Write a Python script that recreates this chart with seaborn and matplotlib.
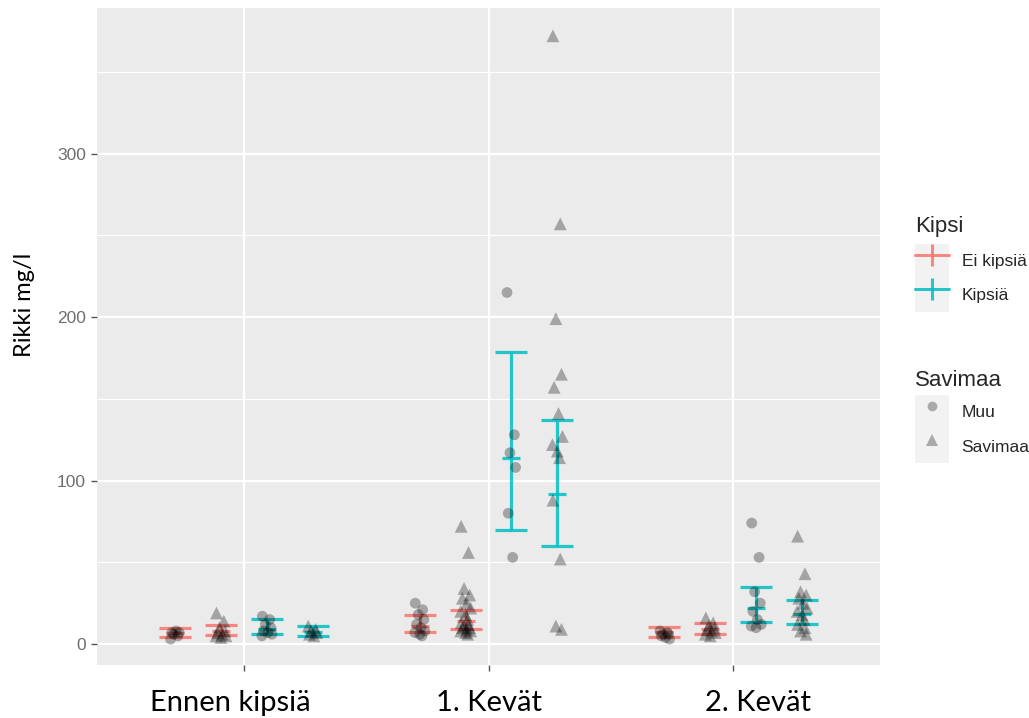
import numpy as np
import pandas as pd
import matplotlib
matplotlib.use("Agg")
import matplotlib.pyplot as plt
import matplotlib.transforms as mtransforms
from matplotlib.lines import Line2D
from matplotlib.patches import Rectangle
from matplotlib.legend_handler import HandlerTuple
import seaborn as sns

# ---------------- data ----------------
categories = ["Ennen kipsiä", "1. Kevät", "2. Kevät"]
kipsi_levels = ["Ei kipsiä", "Kipsiä"]
savimaa_levels = ["Muu", "Savimaa"]

# individual observations, Rikki mg/l
ennen_ei_muu = [3, 5, 6, 7, 7, 8]
ennen_ei_savi = [19, 14, 10, 8, 7, 6, 5, 5, 4]
ennen_k_muu = [17, 15, 12, 10, 8, 7, 6, 5]
ennen_k_savi = [11, 9, 8, 7, 6, 5]

kevat1_ei_muu = [25, 21, 18, 15, 12, 10, 8, 7, 6, 5]
kevat1_ei_savi = [72, 56, 34, 30, 28, 25, 22, 20, 18, 15, 13, 12, 11, 10, 10, 9, 8, 8, 7, 6]
kevat1_k_muu = [215, 128, 117, 108, 80, 53]
kevat1_k_savi = [372, 257, 199, 165, 157, 141, 127, 122, 118, 114, 88, 52, 11, 9]

kevat2_ei_muu = [8, 7, 6, 6, 5, 4, 3]
kevat2_ei_savi = [16, 13, 11, 10, 9, 8, 7, 6, 5]
kevat2_k_muu = [74, 53, 32, 25, 20, 15, 12, 11, 10]
kevat2_k_savi = [66, 43, 32, 30, 28, 25, 22, 20, 18, 15, 12, 10, 8, 6]

# model estimate with interval, order: category x kipsi x savimaa
est_low = [4.5, 5.5, 6.1, 5.0, 7.3, 9.2, 69.7, 60.0, 4.5, 6.1, 13.7, 12.0]
est_mid = [7.0, 8.0, 9.2, 7.5, 11.0, 14.0, 114.0, 92.0, 7.5, 9.0, 21.8, 18.2]
est_high = [10.0, 11.6, 15.3, 11.0, 17.7, 20.8, 178.6, 137.0, 10.6, 13.0, 35.0, 26.9]

groups = [
    ennen_ei_muu, ennen_ei_savi, ennen_k_muu, ennen_k_savi,
    kevat1_ei_muu, kevat1_ei_savi, kevat1_k_muu, kevat1_k_savi,
    kevat2_ei_muu, kevat2_ei_savi, kevat2_k_muu, kevat2_k_savi,
]

# ---------------- layout / style ----------------
colors = {"Ei kipsiä": "#F8766D", "Kipsiä": "#00BFC4"}
dodge_width = 0.75
n_sub = 4
offsets = [(-dodge_width / 2 + dodge_width / n_sub * (k + 0.5)) for k in range(n_sub)]
jit = [-0.018, 0.012, -0.006, 0.017, -0.013, 0.005, 0.021, -0.02, 0.0, 0.009]

rows = []
est_rows = []
g = 0
for ci, cat in enumerate(categories):
    for ki, kip in enumerate(kipsi_levels):
        for si, sav in enumerate(savimaa_levels):
            sub = ki * 2 + si
            xc = ci + offsets[sub]
            for j, v in enumerate(groups[g]):
                rows.append({"x": xc + jit[j % len(jit)], "Rikki": v,
                             "Kipsi": kip, "Savimaa": sav})
            est_rows.append({"x": xc, "low": est_low[g], "mid": est_mid[g],
                             "high": est_high[g], "Kipsi": kip})
            g += 1
df = pd.DataFrame(rows)
est = pd.DataFrame(est_rows)

sns.set_theme(style="darkgrid")
plt.rcParams["font.family"] = ["Liberation Sans", "DejaVu Sans"]

fig = plt.figure(figsize=(10.29, 7.18), dpi=100)
fig.patch.set_facecolor("white")
ax = fig.add_axes([97 / 1029, 1 - 665 / 718, (880 - 97) / 1029, (665 - 8) / 718])
ax.set_facecolor("#EBEBEB")

# error bars (estimate + interval)
for kip in kipsi_levels:
    e = est[est["Kipsi"] == kip]
    ax.errorbar(e["x"], e["mid"],
                yerr=[e["mid"] - e["low"], e["high"] - e["mid"]],
                fmt="none", ecolor=colors[kip], elinewidth=2.3, capsize=11.5,
                capthick=2.3, alpha=0.85, zorder=3)
    ax.plot(e["x"], e["mid"], linestyle="none", marker="_", markersize=13,
            markeredgewidth=2.3, color=colors[kip], alpha=0.85, zorder=3)

# observations
sns.scatterplot(data=df, x="x", y="Rikki", style="Savimaa", size="Savimaa",
                markers={"Muu": "o", "Savimaa": "^"},
                sizes={"Muu": 60, "Savimaa": 85},
                style_order=savimaa_levels, size_order=savimaa_levels,
                color="black", alpha=0.3, linewidth=0, legend=False, ax=ax, zorder=4)

ax.set_xlim(-0.6, 2.6)
ax.set_ylim(-12.8, 389)
ax.set_xticks(range(len(categories)))
ax.set_xticklabels(categories, fontsize=21, fontname="Lato", color="black")
ax.set_yticks([0, 100, 200, 300])
ax.set_yticklabels(["0", "100", "200", "300"], fontsize=12.5, color="#6e6e6e")
ax.set_yticks([50, 150, 250, 350], minor=True)
ax.grid(which="major", color="white", linewidth=1.6)
ax.grid(which="minor", axis="y", color="white", linewidth=0.8)
ax.tick_params(axis="both", which="major", length=4, width=1.0, color="#555555",
               bottom=True, left=True)
ax.tick_params(axis="x", pad=14)
ax.tick_params(axis="y", pad=4)
ax.tick_params(which="minor", length=0)
for sp in ax.spines.values():
    sp.set_visible(False)
ax.set_xlabel("")
ax.set_ylabel("Rikki mg/l", fontsize=17, fontname="Lato", color="black", va="center")
ax.yaxis.set_label_coords(-0.092, 0.548)

shifts = [-14, 0, 25]
for lab, dx in zip(ax.get_xticklabels(), shifts):
    lab.set_transform(lab.get_transform() +
                      mtransforms.ScaledTranslation(dx / 100, 0, fig.dpi_scale_trans))

# legends
hmap = {tuple: HandlerTuple(ndivide=1, pad=0)}
key_bg = "#F2F2F2"
leg_kw = dict(handler_map=hmap, loc="upper left", frameon=False, fontsize=12.5,
              title_fontsize=16, numpoints=1, handlelength=1.96, handleheight=2.65,
              labelspacing=0, handletextpad=0.72, borderpad=0, borderaxespad=0,
              alignment="left")
h1 = [(Rectangle((0, 0), 1, 1, fc=key_bg, ec="none"),
       Line2D([], [], color=colors[k], lw=2.2, marker="|", ms=16, mew=2.2, alpha=0.85))
      for k in kipsi_levels]
leg1 = fig.legend(h1, kipsi_levels, title="Kipsi",
                  bbox_to_anchor=(915 / 1029, 1 - 216 / 718), **leg_kw)
leg1._legend_box.sep = 5

h2 = [(Rectangle((0, 0), 1, 1, fc=key_bg, ec="none"),
       Line2D([], [], linestyle="none", marker=m, ms=m_size, color="black", alpha=0.3,
              markeredgewidth=0))
      for m, m_size in [("o", 7), ("^", 8)]]
leg2 = fig.legend(h2, savimaa_levels, title="Savimaa",
                  bbox_to_anchor=(915 / 1029, 1 - 370 / 718), **leg_kw)
leg2._legend_box.sep = 3

fig.savefig("out.png", dpi=100)
